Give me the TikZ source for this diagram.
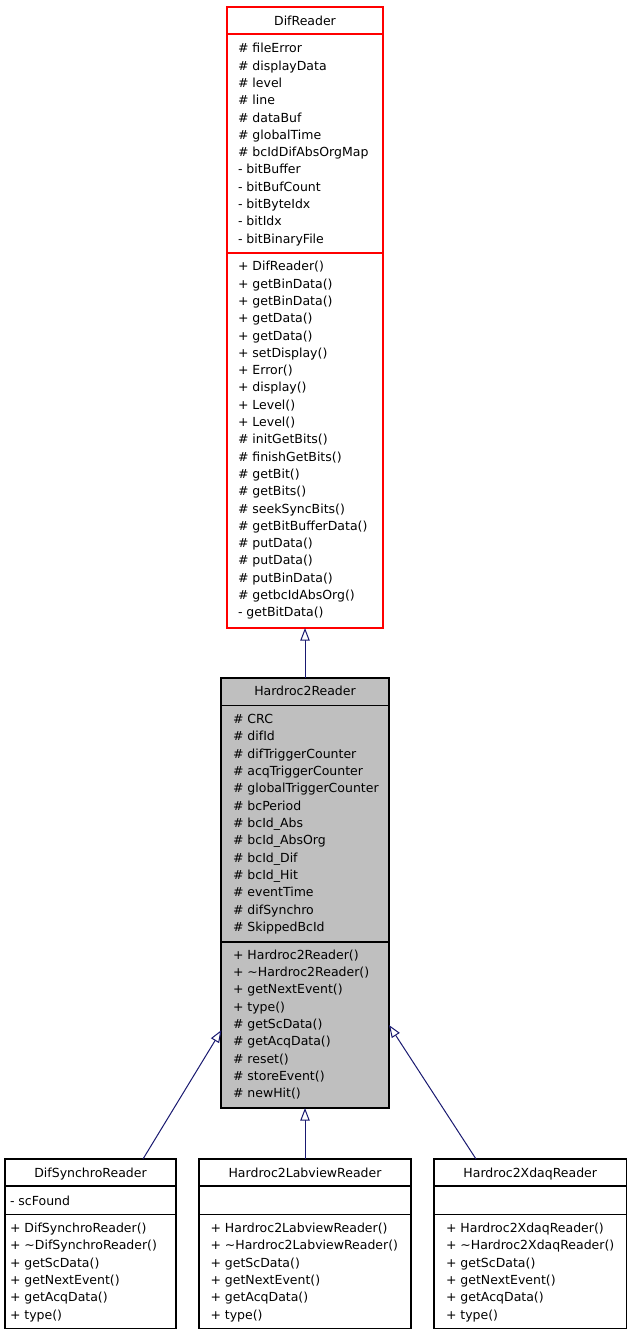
\documentclass[tikz,border=0pt]{standalone}
\usepackage{fontspec}
\setmainfont{DejaVu Sans}
\usetikzlibrary{arrows.meta}
\definecolor{edgeblue}{HTML}{191970}
\definecolor{boxgray}{HTML}{BFBFBF}
\tikzset{
  cls/.style={draw, line width=1.1pt, anchor=north west, inner sep=0pt, outer sep=0pt, fill=white},
  txt/.style={anchor=base west, inner sep=0pt, outer sep=0pt, font=\fontsize{12.5}{15}\selectfont},
  ttl/.style={anchor=base, inner sep=0pt, outer sep=0pt, font=\fontsize{12.5}{15}\selectfont},
  divline/.style={line width=1.1pt},
  inh/.style={draw=edgeblue, line width=1pt, -{Triangle[open, length=12.5pt, width=9.3pt, fill=white]}}
}
\begin{document}
\begin{tikzpicture}[x=1pt, y=-1pt]
\useasboundingbox (0,0) rectangle (632,1336);

% ---------------- DifReader ----------------
\node[cls, draw=red, minimum width=156pt, minimum height=621pt] (dr) at (227,7) {};
\draw[divline, red] (227,34) -- (383,34);
\draw[divline, red] (227,253) -- (383,253);
\node[ttl] (drt) at (305,25) {DifReader};
\foreach \t [count=\i] in {\# fileError, \# displayData, \# level, \# line, \# dataBuf, \# globalTime, \# bcIdDifAbsOrgMap, - bitBuffer, - bitBufCount, - bitByteIdx, - bitIdx, - bitBinaryFile}
  \node[txt] (dra\i) at (238, {52.8+17.3*(\i-1)}) {\t};
\foreach \t [count=\i] in {+ DifReader(), + getBinData(), + getBinData(), + getData(), + getData(), + setDisplay(), + Error(), + display(), + Level(), + Level(), \# initGetBits(), \# finishGetBits(), \# getBit(), \# getBits(), \# seekSyncBits(), \# getBitBufferData(), \# putData(), \# putData(), \# putBinData(), \# getbcIdAbsOrg(), - getBitData()}
  \node[txt] (drm\i) at (238, {270.8+17.3*(\i-1)}) {\t};

% ---------------- Hardroc2Reader ----------------
\node[cls, fill=boxgray, minimum width=168pt, minimum height=430pt] (hr) at (221,678) {};
\draw[divline] (221,705.5) -- (389,705.5);
\draw[divline] (221,942) -- (389,942);
\node[ttl] (hrt) at (305,695) {Hardroc2Reader};
\foreach \t [count=\i] in {\# CRC, \# difId, \# difTriggerCounter, \# acqTriggerCounter, \# globalTriggerCounter, \# bcPeriod, \# bcId\_Abs, \# bcId\_AbsOrg, \# bcId\_Dif, \# bcId\_Hit, \# eventTime, \# difSynchro, \# SkippedBcId}
  \node[txt] (hra\i) at (233, {723.3+17.35*(\i-1)}) {\t};
\foreach \t [count=\i] in {+ Hardroc2Reader(), + \textasciitilde Hardroc2Reader(), + getNextEvent(), + type(), \# getScData(), \# getAcqData(), \# reset(), \# storeEvent(), \# newHit()}
  \node[txt] (hrm\i) at (233, {959.3+17.3*(\i-1)}) {\t};

% ---------------- DifSynchroReader ----------------
\node[cls, minimum width=171pt, minimum height=169.5pt] (dsr) at (5,1159) {};
\draw[divline] (5,1186) -- (176,1186);
\draw[divline] (5,1214.5) -- (176,1214.5);
\node[ttl] (dsrt) at (90.5,1177.5) {DifSynchroReader};
\node[txt] (dsra1) at (10,1205) {- scFound};
\foreach \t [count=\i] in {+ DifSynchroReader(), + \textasciitilde DifSynchroReader(), + getScData(), + getNextEvent(), + getAcqData(), + type()}
  \node[txt] (dsrm\i) at (10, {1232.5+17.3*(\i-1)}) {\t};

% ---------------- Hardroc2LabviewReader ----------------
\node[cls, minimum width=212pt, minimum height=169.5pt] (lv) at (199,1159) {};
\draw[divline] (199,1186) -- (411,1186);
\draw[divline] (199,1214.5) -- (411,1214.5);
\node[ttl] (lvt) at (305,1177.5) {Hardroc2LabviewReader};
\foreach \t [count=\i] in {+ Hardroc2LabviewReader(), + \textasciitilde Hardroc2LabviewReader(), + getScData(), + getNextEvent(), + getAcqData(), + type()}
  \node[txt] (lvm\i) at (210.5, {1232.5+17.3*(\i-1)}) {\t};

% ---------------- Hardroc2XdaqReader ----------------
\node[cls, minimum width=192.5pt, minimum height=169.5pt] (xd) at (434,1159) {};
\draw[divline] (434,1186) -- (626.5,1186);
\draw[divline] (434,1214.5) -- (626.5,1214.5);
\node[ttl] (xdt) at (530.25,1177.5) {Hardroc2XdaqReader};
\foreach \t [count=\i] in {+ Hardroc2XdaqReader(), + \textasciitilde Hardroc2XdaqReader(), + getScData(), + getNextEvent(), + getAcqData(), + type()}
  \node[txt] (xdm\i) at (446, {1232.5+17.3*(\i-1)}) {\t};

% ---------------- inheritance connectors ----------------
\coordinate (dsrTop) at (143,1159);
\coordinate (hrLeft) at (221.5,1030);
\coordinate (xdTop) at (476,1159);
\coordinate (hrRight) at (389,1025);
\draw[inh] (hr.north) -- (dr.south);
\draw[inh] (dsrTop) -- (hrLeft);
\draw[inh] (lv.north) -- (hr.south);
\draw[inh] (xdTop) -- (hrRight);
\end{tikzpicture}
\end{document}
